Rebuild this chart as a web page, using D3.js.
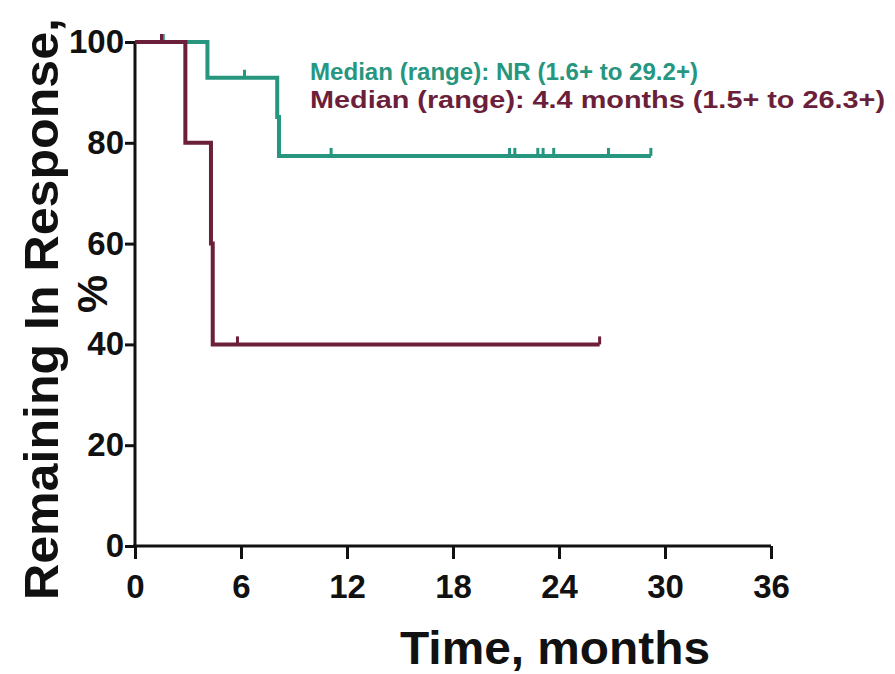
<!DOCTYPE html>
<html>
<head>
<meta charset="utf-8">
<script src="https://cdn.jsdelivr.net/npm/d3@7"></script>
<style>
  body { margin: 0; background: #fff; }
  svg { font-family: "Liberation Sans", Arial, sans-serif; }
</style>
</head>
<body>
<svg width="895" height="674"></svg>
<script>
// **** Data ****
var xTicks = [0, 6, 12, 18, 24, 30, 36];
var yTicks = [0, 20, 40, 60, 80, 100];

// teal arm: step times and % remaining after each step
var tealTimes = [0, 4.1, 8.05, 8.15, 29.2];
var tealPct = [100, 92.9, 85.1, 77.4, 77.4];
var tealCensor = [1.6, 6.2, 11.1, 21.2, 21.5, 22.8, 23.1, 23.7, 26.8, 29.2];

// maroon arm
var maroonTimes = [0, 2.85, 4.3, 4.4, 26.3];
var maroonPct = [100, 80, 60, 40, 40];
var maroonCensor = [1.5, 5.8, 26.3];

var tealColor = "#27967f";
var maroonColor = "#6b1f3b";

var svg = d3.select('svg');

// **** Scales and axes ****
var xScale = d3.scaleLinear().domain([0, 36]).range([135, 771]);
var yScale = d3.scaleLinear().domain([0, 100]).range([546, 42]);

function styleAxis(g) {
    g.selectAll('path, line').attr('stroke', '#111').attr('stroke-width', 3);
    g.selectAll('text')
        .attr('fill', '#111')
        .style('font-size', '33px')
        .style('font-weight', 'bold')
        .style('font-family', '"Liberation Sans", Arial, sans-serif');
}

svg.append('g').attr('class', 'x axis')
    .attr('transform', 'translate(0,546)')
    .call(d3.axisBottom(xScale).tickValues(xTicks).tickSize(13).tickPadding(16).tickSizeOuter(0))
    .call(function (g) { g.select('.domain').attr('d', 'M133,0H771'); })
    .call(styleAxis);

svg.append('g').attr('class', 'y axis')
    .attr('transform', 'translate(135,0)')
    .call(d3.axisLeft(yScale).tickValues(yTicks).tickSize(10).tickPadding(1).tickSizeOuter(0))
    .call(function (g) { g.select('.domain').attr('d', 'M0,42V548'); })
    .call(styleAxis);

// **** Curves ****
function stepLevel(times, pct, t) {
    var v = pct[0];
    for (var i = 0; i < times.length; i++) {
        if (times[i] <= t) v = pct[i];
    }
    return v;
}

function drawArm(times, pct, censor, color) {
    var pts = times.map(function (t, i) { return [t, pct[i]]; });
    var line = d3.line()
        .x(function (d) { return xScale(d[0]); })
        .y(function (d) { return yScale(d[1]); })
        .curve(d3.curveStepAfter);

    svg.append('path')
        .datum(pts)
        .attr('d', line)
        .attr('fill', 'none')
        .attr('stroke', color)
        .attr('stroke-width', 4);

    svg.selectAll(null)
        .data(censor)
        .enter()
        .append('line')
        .attr('x1', function (d) { return xScale(d); })
        .attr('x2', function (d) { return xScale(d); })
        .attr('y1', function (d) { return yScale(stepLevel(times, pct, d)); })
        .attr('y2', function (d) { return yScale(stepLevel(times, pct, d)) - 8; })
        .attr('stroke', color)
        .attr('stroke-width', 3);
}

drawArm(tealTimes, tealPct, tealCensor, tealColor);
drawArm(maroonTimes, maroonPct, maroonCensor, maroonColor);

// **** Legend text ****
svg.append('text')
    .attr('x', 310).attr('y', 80)
    .attr('font-size', 23).attr('font-weight', 'bold')
    .attr('fill', tealColor)
    .attr('textLength', 388).attr('lengthAdjust', 'spacingAndGlyphs')
    .text('Median (range): NR (1.6+ to 29.2+)');

svg.append('text')
    .attr('x', 310).attr('y', 108)
    .attr('font-size', 23).attr('font-weight', 'bold')
    .attr('fill', maroonColor)
    .attr('textLength', 575).attr('lengthAdjust', 'spacingAndGlyphs')
    .text('Median (range): 4.4 months (1.5+ to 26.3+)');

// **** Axis titles ****
svg.append('text')
    .attr('transform', 'translate(555, 664)')
    .attr('text-anchor', 'middle')
    .attr('font-size', 46).attr('font-weight', 'bold')
    .attr('fill', '#111')
    .attr('textLength', 310).attr('lengthAdjust', 'spacingAndGlyphs')
    .text('Time, months');

svg.append('text')
    .attr('transform', 'translate(58, 309) rotate(-90)')
    .attr('text-anchor', 'middle')
    .attr('font-size', 48).attr('font-weight', 'bold')
    .attr('fill', '#111')
    .attr('textLength', 582).attr('lengthAdjust', 'spacingAndGlyphs')
    .text('Remaining In Response,');

svg.append('text')
    .attr('transform', 'translate(107, 294) rotate(-90)')
    .attr('text-anchor', 'middle')
    .attr('font-size', 43).attr('font-weight', 'bold')
    .attr('fill', '#111')
    .text('%');
</script>
</body>
</html>
